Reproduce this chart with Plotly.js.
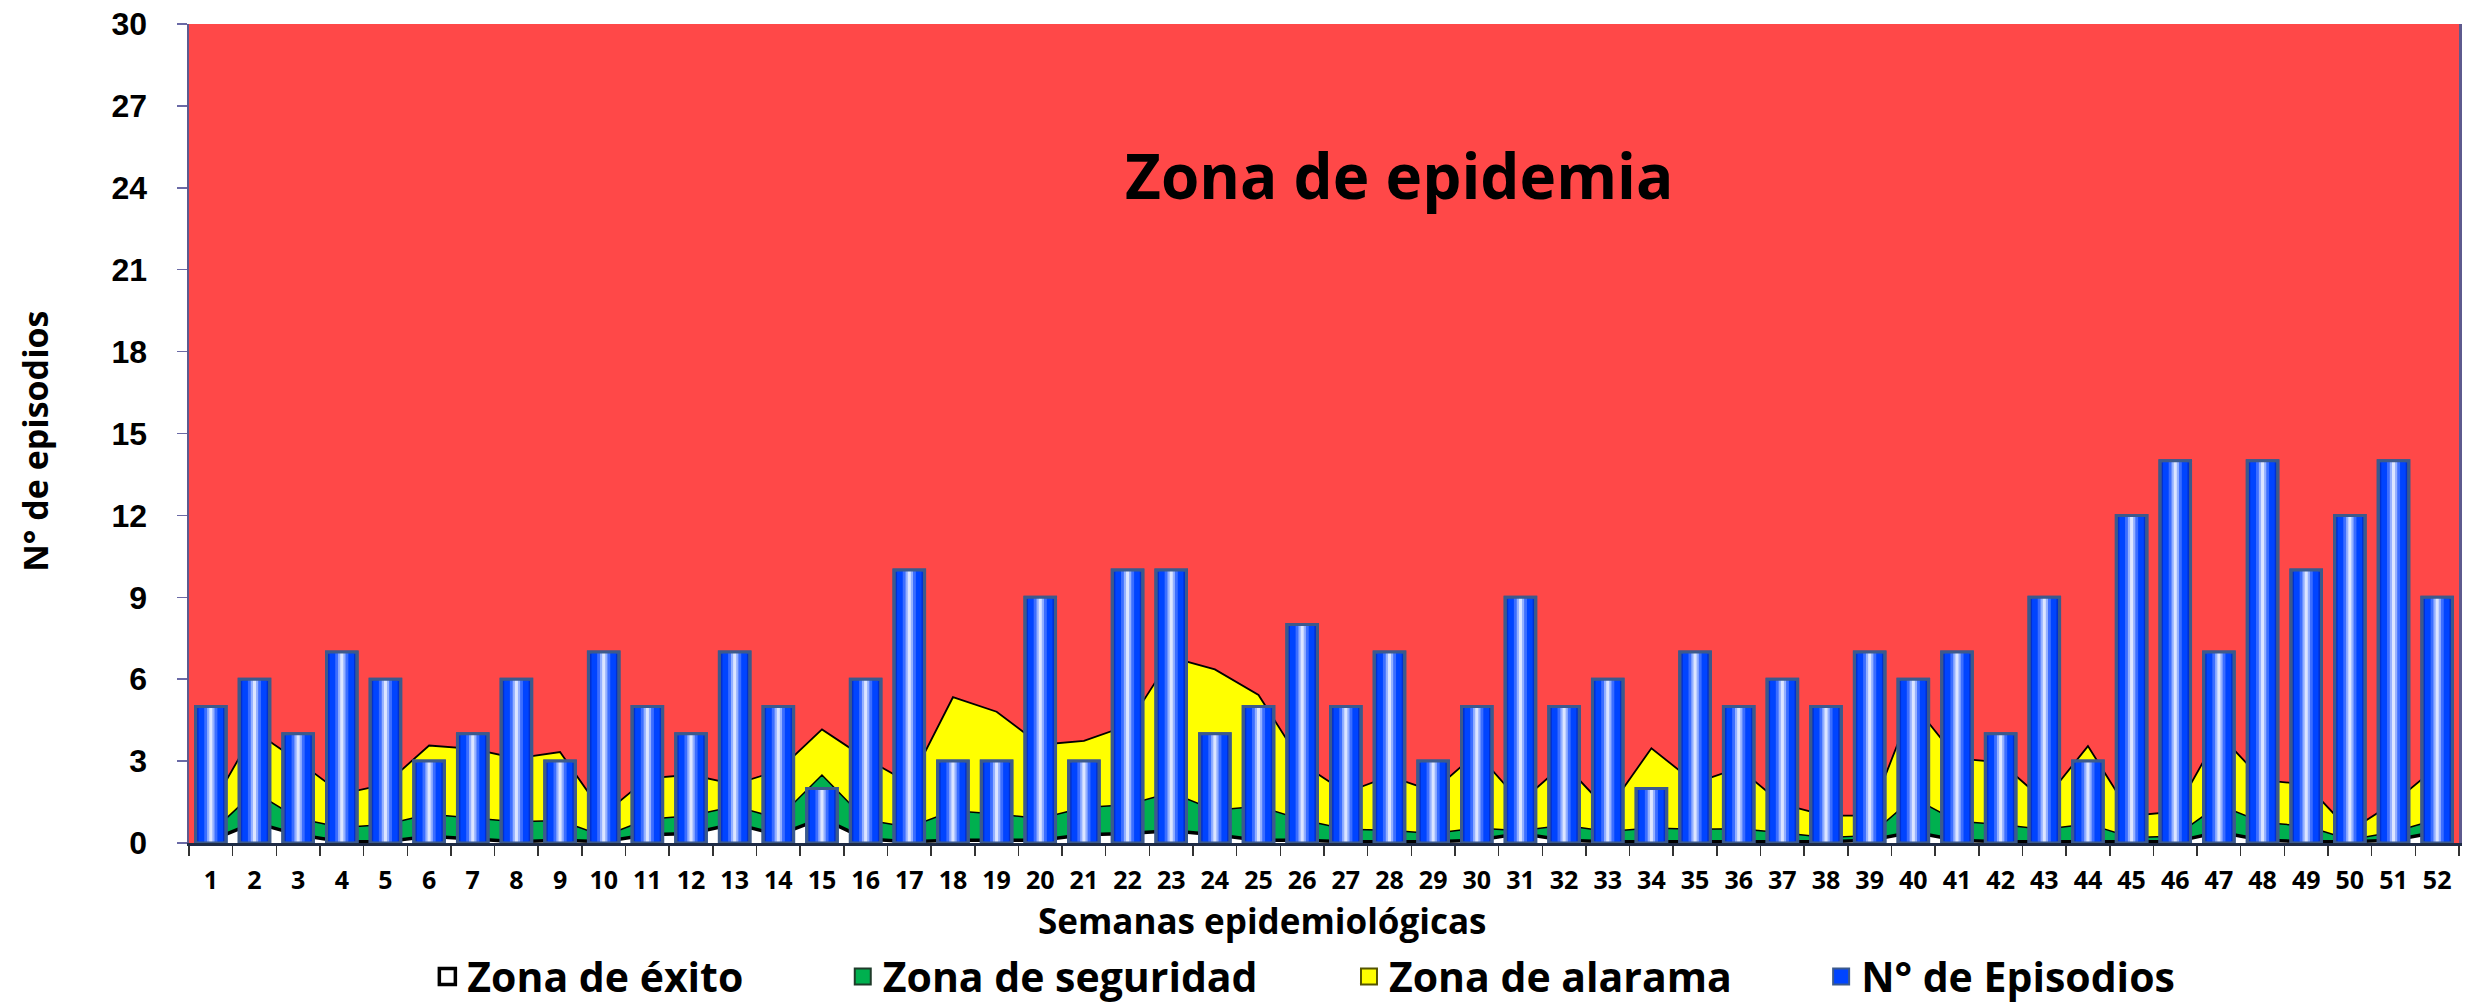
<!DOCTYPE html>
<html>
<head>
<meta charset="utf-8">
<script src="https://cdn.plot.ly/plotly-3.0.1.min.js"></script>
<style>html,body{margin:0;padding:0;background:#fff;}#chart{width:2471px;height:1006px;}</style>
</head>
<body>
<div id="chart"></div>
<script>
// Semanas epidemiológicas (categories)
const semanas = ['1','2','3','4','5','6','7','8','9','10','11','12','13','14','15','16','17','18','19','20','21','22','23','24','25','26','27','28','29','30','31','32','33','34','35','36','37','38','39','40','41','42','43','44','45','46','47','48','49','50','51','52'];

// N° de Episodios per week
const episodios = [5,6,4,7,6,3,4,6,3,7, 5,4,7,5,2,6,10,3,3,9, 3,10,10,4,5,8,5,7,3,5, 9,5,6,2,7,5,6,5,7,6, 7,4,9,3,12,14,7,14,10,12, 14,9];

// Upper limit of "Zona de éxito"
const limiteExito = [0.10,0.75,0.30,0.05,0.05,0.25,0.15,0.05,0.10,0.05, 0.30,0.35,0.70,0.30,0.90,0.15,0.05,0.10,0.10,0.10, 0.30,0.35,0.45,0.30,0.10,0.10,0.05,0.05,0.05,0.10, 0.35,0.10,0.05,0.05,0.05,0.05,0.05,0.05,0.10,0.40, 0.10,0.05,0.05,0.05,0.05,0.05,0.40,0.10,0.05,0.05, 0.10,0.40];

// Upper limit of "Zona de seguridad"
const limiteSeguridad = [0.37,1.87,0.90,0.57,0.68,1.05,0.92,0.78,0.82,0.25, 0.87,1.00,1.35,0.90,2.49,0.85,0.58,1.18,1.06,0.90, 1.30,1.40,1.85,1.20,1.35,0.85,0.50,0.47,0.35,0.55, 0.45,0.65,0.42,0.55,0.50,0.52,0.38,0.20,0.27,1.65, 0.80,0.68,0.50,0.70,0.20,0.25,1.40,0.75,0.62,0.12, 0.40,0.87];

// Upper limit of "Zona de alarama"
const limiteAlarma = [1.30,4.10,3.00,1.80,2.15,3.57,3.45,3.10,3.33,1.05, 2.37,2.50,2.15,2.65,4.16,3.10,2.20,5.34,4.81,3.60, 3.74,4.30,6.80,6.36,5.42,2.90,1.85,2.45,1.90,3.30, 1.50,2.90,1.20,3.47,2.20,2.75,1.42,1.00,1.00,5.10, 3.10,2.95,1.55,3.55,1.00,1.15,4.00,2.30,2.15,0.45, 1.47,2.80];

// Legend names and swatch colours
const nombres = ['Zona de éxito', 'Zona de seguridad', 'Zona de alarama', 'N° de Episodios'];
const coloresLeyenda = ['#FFFFFF', '#00B04F', '#FFFF00', '#0044FF'];
const bordesLeyenda = ['#000000', '#1F3B2A', '#555500', '#3C5A8C'];

const legendFont = {family: 'Open Sans', size: 41, color: '#000', weight: 700};

const traces = [
  {x: semanas, y: limiteExito, type: 'scatter', mode: 'lines', name: nombres[0], showlegend: false,
   fill: 'tozeroy', fillcolor: '#FFFFFF', line: {color: '#000000', width: 3.5}, xaxis: 'x', yaxis: 'y'},
  {x: semanas, y: limiteSeguridad, type: 'scatter', mode: 'lines', name: nombres[1], showlegend: false,
   fill: 'tonexty', fillcolor: '#00B04F', line: {color: '#000000', width: 1.5}, xaxis: 'x', yaxis: 'y'},
  {x: semanas, y: limiteAlarma, type: 'scatter', mode: 'lines', name: nombres[2], showlegend: false,
   fill: 'tonexty', fillcolor: '#FFFF00', line: {color: '#000000', width: 1.8}, xaxis: 'x', yaxis: 'y'},
  // bars drawn on an overlaying subplot so they sit above the areas
  {x: semanas, y: episodios, type: 'bar', name: nombres[3], showlegend: false, width: 0.7,
   marker: {color: '#0030D0', line: {color: '#3C5A8C', width: 3}}, xaxis: 'x2', yaxis: 'y2'},
  {x: semanas, y: episodios, type: 'bar', showlegend: false, width: 0.56, hoverinfo: 'skip',
   marker: {color: '#0044FF', line: {width: 0}}, xaxis: 'x2', yaxis: 'y2'},
  {x: semanas, y: episodios, type: 'bar', showlegend: false, width: 0.30, hoverinfo: 'skip',
   marker: {color: '#3C6EFF', line: {width: 0}}, xaxis: 'x2', yaxis: 'y2'},
  {x: semanas, y: episodios, type: 'bar', showlegend: false, width: 0.17, hoverinfo: 'skip',
   marker: {color: '#94B0FF', line: {width: 0}}, xaxis: 'x2', yaxis: 'y2'},
  {x: semanas, y: episodios, type: 'bar', showlegend: false, width: 0.07, hoverinfo: 'skip',
   marker: {color: '#DCE5FF', line: {width: 0}}, xaxis: 'x2', yaxis: 'y2'},
  {x: semanas, y: episodios, type: 'bar', showlegend: false, width: 0.7, hoverinfo: 'skip',
   marker: {color: 'rgba(0,0,0,0)', line: {color: '#3C5A8C', width: 3}}, xaxis: 'x2', yaxis: 'y2'}
];

// legend-only swatches (a single empty point each, nothing is drawn), one legend box per item
const legendIds = ['legend', 'legend2', 'legend3', 'legend4'];
nombres.forEach((n, i) => {
  traces.push({x: [semanas[0]], y: [null], type: 'scatter', mode: 'markers', name: n, showlegend: true,
    legend: legendIds[i], xaxis: 'x', yaxis: 'y', hoverinfo: 'skip',
    marker: {symbol: 'square', size: 16, color: coloresLeyenda[i], line: {color: bordesLeyenda[i], width: i === 0 ? 3.5 : 2}}});
});

const legendX = [0.1050, 0.2880, 0.5110, 0.7190];
function legendBox(x) {
  return {orientation: 'h', x: x, xref: 'paper', xanchor: 'left', y: 0.029, yref: 'container', yanchor: 'middle',
          itemsizing: 'trace', font: legendFont, itemwidth: 30, bgcolor: 'rgba(0,0,0,0)', borderwidth: 0};
}

const layout = {
  width: 2471, height: 1006,
  margin: {l: 189, r: 12, t: 24, b: 163},
  paper_bgcolor: '#FFFFFF',
  plot_bgcolor: '#FF4848',
  barmode: 'overlay',
  showlegend: true,
  legend: legendBox(legendX[0]),
  legend2: legendBox(legendX[1]),
  legend3: legendBox(legendX[2]),
  legend4: legendBox(legendX[3]),
  xaxis: {type: 'category', range: [-0.5, 51.5], tickson: 'boundaries', ticks: 'outside', ticklen: 10,
          tickcolor: '#333', tickwidth: 1.5, showline: true, linecolor: '#1E2B45', linewidth: 3,
          mirror: false, showgrid: false, zeroline: false, ticklabelstandoff: 13, automargin: false,
          tickfont: {family: 'Open Sans', size: 25, color: '#000', weight: 700}, fixedrange: true},
  yaxis: {range: [0, 30], dtick: 3, tick0: 0, ticks: 'outside', ticklen: 10, tickcolor: '#6A6AA6',
          tickwidth: 1.5, showline: true, linecolor: '#5E5A8E', linewidth: 2.5, mirror: true,
          showgrid: false, zeroline: false, ticklabelstandoff: 23, automargin: false,
          tickfont: {family: 'Liberation Sans', size: 32, color: '#000', weight: 700}, fixedrange: true},
  xaxis2: {type: 'category', overlaying: 'x', anchor: 'y2', range: [-0.5, 51.5], showticklabels: false,
           ticks: '', showline: true, linecolor: '#1E2B45', linewidth: 3, showgrid: false, zeroline: false},
  yaxis2: {overlaying: 'y', anchor: 'x2', range: [0, 30], showticklabels: false, ticks: '',
           showline: false, showgrid: false, zeroline: false},
  annotations: [
    {text: 'Zona de epidemia', xref: 'paper', yref: 'paper', x: 0.533, y: 0.816, showarrow: false,
     xanchor: 'center', yanchor: 'middle', font: {family: 'Open Sans', size: 62, color: '#000', weight: 700}},
    {text: 'Semanas epidemiológicas', xref: 'paper', yref: 'paper', x: 0.473, y: -0.095, showarrow: false,
     xanchor: 'center', yanchor: 'middle', font: {family: 'Open Sans', size: 35, color: '#000', weight: 700}},
    {text: 'N° de episodios', xref: 'paper', yref: 'paper', x: -0.0678, y: 0.49, showarrow: false,
     textangle: -90, xanchor: 'center', yanchor: 'middle', font: {family: 'Open Sans', size: 34, color: '#000', weight: 700}}
  ]
};

Plotly.newPlot('chart', traces, layout, {displayModeBar: false, staticPlot: true});
</script>
</body>
</html>
